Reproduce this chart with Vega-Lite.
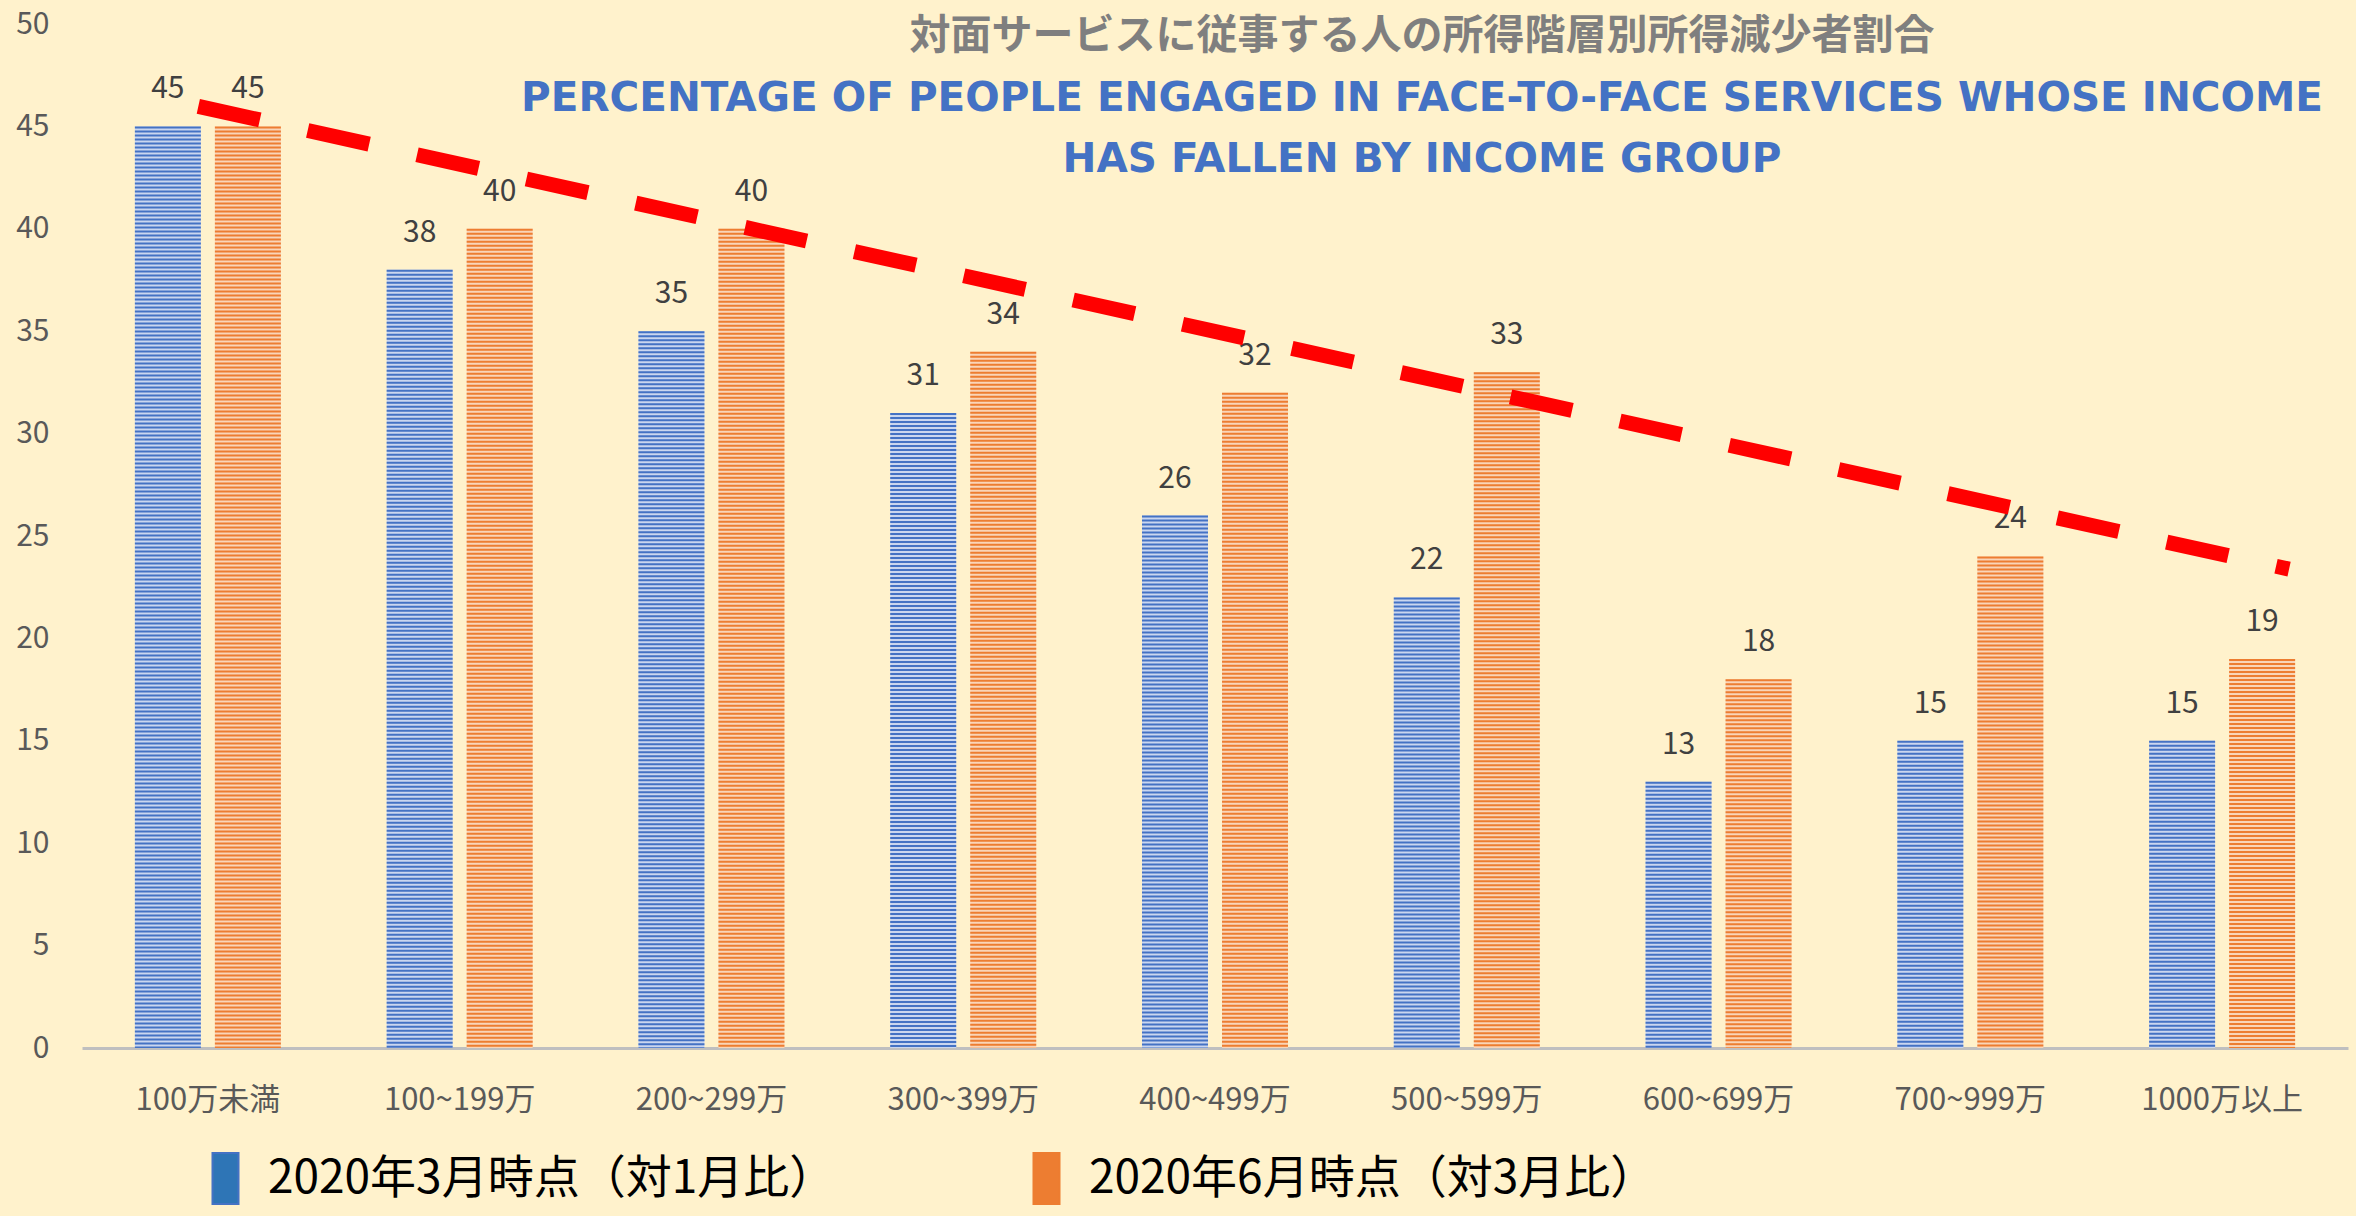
{
  "$schema": "https://vega.github.io/schema/vega-lite/v6.json",
  "width": 2266,
  "height": 1024,
  "autosize": "none",
  "padding": {"left": 82, "top": 24, "right": 8, "bottom": 168},
  "background": "#FFF2CC",
  "config": {
    "view": {"stroke": null},
    "font": "Noto Sans CJK JP"
  },
  "title": {
    "text": "対面サービスに従事する人の所得階層別所得減少者割合",
    "subtitle": ["PERCENTAGE OF PEOPLE ENGAGED IN FACE-TO-FACE SERVICES WHOSE INCOME", "HAS FALLEN BY INCOME GROUP"],
    "anchor": "middle",
    "frame": "group",
    "dx": 207,
    "offset": -172,
    "font": "Noto Sans CJK JP",
    "fontSize": 41,
    "fontWeight": "bold",
    "color": "#7F7F7F",
    "subtitleFont": "DejaVu Sans",
    "subtitleFontSize": 40.5,
    "subtitleFontWeight": "bold",
    "subtitleColor": "#4472C4",
    "subtitleLineHeight": 61,
    "subtitlePadding": 21
  },
  "datasets": {
    "bars": [
      {"group": "100万未満", "series": "2020年3月時点（対1月比）", "value": 45},
      {"group": "100万未満", "series": "2020年6月時点（対3月比）", "value": 45},
      {"group": "100~199万", "series": "2020年3月時点（対1月比）", "value": 38},
      {"group": "100~199万", "series": "2020年6月時点（対3月比）", "value": 40},
      {"group": "200~299万", "series": "2020年3月時点（対1月比）", "value": 35},
      {"group": "200~299万", "series": "2020年6月時点（対3月比）", "value": 40},
      {"group": "300~399万", "series": "2020年3月時点（対1月比）", "value": 31},
      {"group": "300~399万", "series": "2020年6月時点（対3月比）", "value": 34},
      {"group": "400~499万", "series": "2020年3月時点（対1月比）", "value": 26},
      {"group": "400~499万", "series": "2020年6月時点（対3月比）", "value": 32},
      {"group": "500~599万", "series": "2020年3月時点（対1月比）", "value": 22},
      {"group": "500~599万", "series": "2020年6月時点（対3月比）", "value": 33},
      {"group": "600~699万", "series": "2020年3月時点（対1月比）", "value": 13},
      {"group": "600~699万", "series": "2020年6月時点（対3月比）", "value": 18},
      {"group": "700~999万", "series": "2020年3月時点（対1月比）", "value": 15},
      {"group": "700~999万", "series": "2020年6月時点（対3月比）", "value": 24},
      {"group": "1000万以上", "series": "2020年3月時点（対1月比）", "value": 15},
      {"group": "1000万以上", "series": "2020年6月時点（対3月比）", "value": 19}
    ],
    "trend": [
      {"tx": 0.462, "ty": 45.98},
      {"tx": 8.766, "ty": 23.38}
    ]
  },
  "layer": [
    {
      "data": {"name": "bars"},
      "encoding": {
        "x": {
          "field": "group",
          "type": "nominal",
          "sort": null,
          "scale": {"paddingInner": 0.42, "paddingOuter": 0.21},
          "axis": {
            "title": null,
            "labelAngle": 0,
            "labelFontSize": 31,
            "labelColor": "#595959",
            "labelPadding": 37,
            "ticks": false,
            "domainColor": "#BFBFBF",
            "domainWidth": 3,
            "grid": false
          }
        },
        "xOffset": {
          "field": "series",
          "type": "nominal",
          "sort": null,
          "scale": {"paddingInner": 0.175, "paddingOuter": 0}
        },
        "y": {
          "field": "value",
          "type": "quantitative",
          "scale": {"domain": [0, 50], "nice": false},
          "axis": {
            "title": null,
            "values": [0, 5, 10, 15, 20, 25, 30, 35, 40, 45, 50],
            "labelFontSize": 30,
            "labelColor": "#595959",
            "labelPadding": 33,
            "ticks": false,
            "domain": false,
            "grid": false
          }
        }
      },
      "layer": [
        {
          "mark": {"type": "bar"},
          "encoding": {
            "fill": {
              "condition": {"test": "datum.series === '2020年3月時点（対1月比）'", "value": "#CAD6EF"},
              "value": "#F9D5B8"
            }
          }
        },
        {
          "mark": {"type": "rule", "strokeWidth": 66, "strokeDash": [2, 2], "strokeCap": "butt"},
          "encoding": {
            "y2": {"datum": 0},
            "color": {
              "field": "series",
              "type": "nominal",
              "scale": {"domain": ["2020年3月時点（対1月比）", "2020年6月時点（対3月比）"], "range": ["#4472C4", "#ED7D31"]},
              "legend": {
                "title": null,
                "orient": "none",
                "direction": "horizontal",
                "legendX": 117,
                "legendY": 1128,
                "symbolType": "M-0.51,-1H0.51V1H-0.51Z",
                "symbolSize": 2601,
                "symbolStrokeWidth": 2,
                "labelFontSize": 46,
                "labelColor": "#000000",
                "labelOffset": 16,
                "labelLimit": 800,
                "columnPadding": 184,
                "encode": {
                  "symbols": {
                    "update": {
                      "fill": {"signal": "datum.value === '2020年3月時点（対1月比）' ? '#2E75B6' : '#ED7D31'"},
                      "stroke": {"value": "#2F5597"},
                      "strokeWidth": {"value": 2},
                      "strokeDash": {"value": []},
                      "opacity": {"value": 1},
                      "fillOpacity": {"value": 1}
                    }
                  }
                }
              }
            }
          }
        },
        {
          "mark": {"type": "text", "baseline": "alphabetic", "dy": -28, "fontSize": 30, "color": "#404040"},
          "encoding": {
            "text": {"field": "value", "type": "quantitative"}
          }
        }
      ]
    },
    {
      "data": {"name": "trend"},
      "mark": {"type": "line", "color": "#FF0000", "strokeWidth": 15, "strokeDash": [63, 49], "strokeCap": "butt"},
      "encoding": {
        "x": {"field": "tx", "type": "quantitative", "scale": {"domain": [0, 9], "nice": false, "zero": false}, "axis": null},
        "y": {"field": "ty", "type": "quantitative"}
      }
    }
  ],
  "resolve": {"scale": {"x": "independent"}, "axis": {"x": "independent"}}
}
